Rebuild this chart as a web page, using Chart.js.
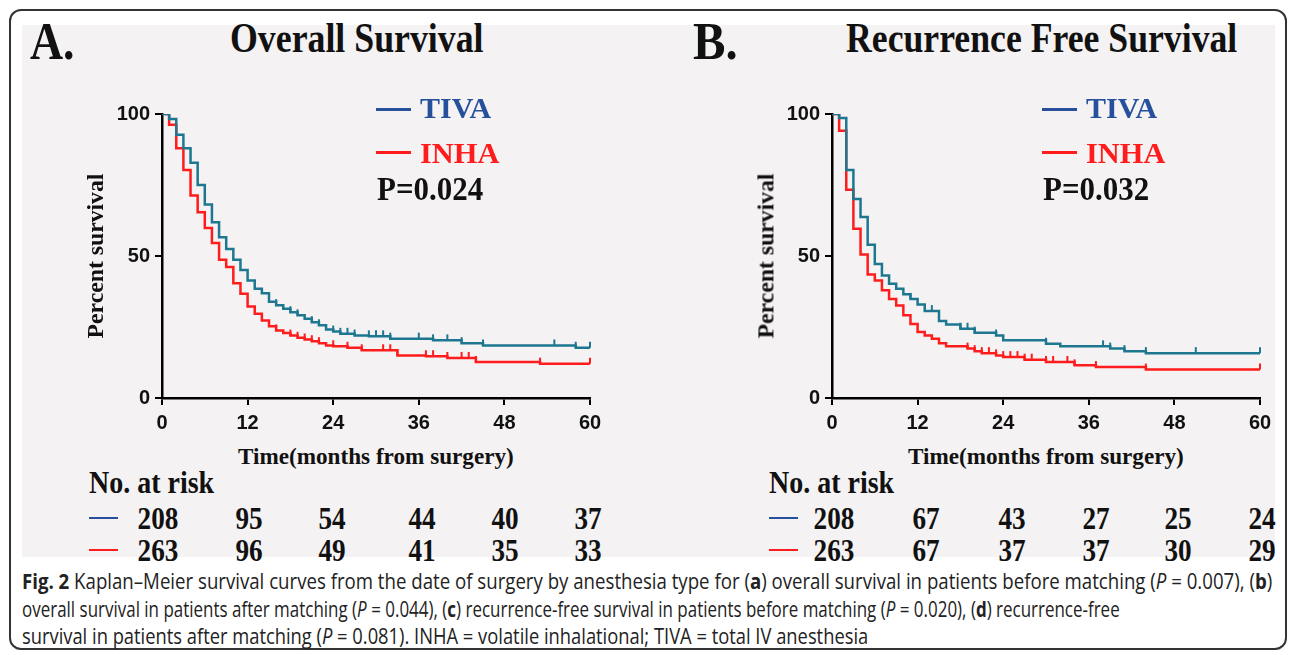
<!DOCTYPE html>
<html>
<head>
<meta charset="utf-8">
<script src="https://cdn.jsdelivr.net/npm/chart.js@4.4.1/dist/chart.umd.min.js"></script>
<style>
  html, body { margin: 0; padding: 0; background: #fff; }
  #fig { position: relative; width: 1292px; height: 655px; overflow: hidden; }
  #frame { position: absolute; left: 9px; top: 9px; width: 1274px; height: 637px;
           border: 2px solid #333; border-radius: 12px; }
  #panel { position: absolute; left: 22px; top: 25px; width: 1253px; height: 532px; background: #f4f2f3; }
  canvas { position: absolute; }
  .txt { position: absolute; line-height: 1; white-space: nowrap; }
  .seg { position: absolute; }
</style>
</head>
<body>
<div id="fig">
  <div id="frame"></div>
  <div id="panel"></div>
  <canvas id="osChart" width="560" height="350" style="left:60px;top:90px"></canvas>
  <canvas id="rfsChart" width="560" height="350" style="left:730px;top:90px"></canvas>
</div>
<script>
// ---- data (months, percent survival after the drop) ----
const osTivaT = [1, 2, 3, 4, 5, 6, 7, 8, 9, 10, 11, 12, 13, 14, 15, 16, 17, 18, 19, 20, 21, 22, 23, 24, 25, 27, 29, 32, 38, 42, 45, 58];
const osTivaS = [98.2, 92.7, 87.9, 82.8, 75.0, 68.1, 61.9, 56.6, 52.5, 48.7, 45.1, 41.4, 38.5, 36.9, 33.9, 32.7, 31.4, 30.2, 29.1, 27.9, 26.7, 25.6, 24.1, 23.4, 22.6, 22.0, 21.7, 20.9, 20.3, 19.3, 18.5, 17.7];
const osInhaT = [1, 2, 3, 4, 5, 6, 7, 8, 9, 10, 11, 12, 13, 14, 15, 16, 17, 18, 19, 20, 21, 22, 23, 24, 26, 28, 33, 37, 40, 44, 53];
const osInhaS = [96.2, 87.9, 80.3, 71.3, 65.4, 59.9, 54.6, 48.7, 46.1, 40.4, 36.7, 32.2, 29.7, 27.3, 25.3, 23.8, 22.9, 22.0, 21.2, 20.6, 20.0, 19.3, 18.5, 18.2, 17.7, 16.8, 15.0, 14.7, 14.1, 12.7, 12.1];
const osTivaCens = [16, 18, 19, 21, 22, 24, 25, 26, 27, 29, 30, 31, 32, 36, 38, 40, 42, 45, 55, 58, 60];
const osInhaCens = [16, 18, 19, 20, 21, 22, 24, 26, 28, 31, 32, 33, 37, 38, 40, 42, 43, 44, 53, 60];

const rfsTivaT = [1, 2, 3, 4, 5, 6, 7, 8, 9, 10, 11, 12, 13, 15, 16, 18, 20, 23, 24, 30, 32, 39, 41, 44];
const rfsTivaS = [98.6, 80.3, 70.1, 63.7, 54.0, 47.2, 43.1, 40.2, 38.5, 36.5, 34.9, 32.9, 30.6, 27.1, 25.9, 24.4, 23.0, 22.0, 20.3, 19.1, 18.2, 17.4, 16.5, 15.8];
const rfsInhaT = [1, 2, 3, 4, 5, 6, 7, 8, 9, 10, 11, 12, 13, 14, 15, 16, 19, 20, 21, 23, 24, 27, 30, 34, 37, 44];
const rfsInhaS = [94.1, 73.3, 59.6, 50.5, 43.5, 41.4, 37.9, 34.9, 32.6, 29.1, 26.1, 23.2, 22.0, 20.9, 19.3, 18.2, 17.4, 16.5, 15.8, 15.0, 14.4, 13.5, 12.7, 11.5, 10.9, 10.0];
const rfsTivaCens = [11, 14, 18, 19, 20, 23, 30, 38, 39, 41, 44, 51, 60];
const rfsInhaCens = [19, 20, 21, 22, 23, 24, 25, 26, 27, 28, 30, 31, 33, 34, 37, 44, 60];

// number at risk
const osRiskTiva = [208, 95, 54, 44, 40, 37];
const osRiskInha = [263, 96, 49, 41, 35, 33];
const rfsRiskTiva = [208, 67, 43, 27, 25, 24];
const rfsRiskInha = [263, 67, 37, 37, 30, 29];

const xTicks = [0, 12, 24, 36, 48, 60];
const yTicks = [0, 50, 100];

const TIVA_CURVE = '#1d7790';
const TIVA_BLUE = '#26509c';
const INHA_RED = '#ff1c1c';
const SERIF = '"Liberation Serif", "Times New Roman", serif';
const SANS = '"Liberation Sans", Arial, sans-serif';

function kmPoints(t, s) {
  const pts = [{ x: 0, y: 100 }];
  for (let i = 0; i < t.length; i++) pts.push({ x: t[i], y: s[i] });
  pts.push({ x: 60, y: s[s.length - 1] });
  return pts;
}
function survAt(t, s, time) {
  let v = 100;
  for (let i = 0; i < t.length; i++) if (t[i] <= time) v = s[i];
  return v;
}

// small upward censor ticks, placed through the chart's own scales
const censorPlugin = {
  id: 'censor',
  afterDatasetsDraw(chart, args, opts) {
    const ctx = chart.ctx, xs = chart.scales.x, ys = chart.scales.y;
    ctx.save();
    ctx.lineWidth = 2;
    opts.sets.forEach(set => {
      ctx.strokeStyle = set.color;
      set.times.forEach(tm => {
        const px = xs.getPixelForValue(tm);
        const py = ys.getPixelForValue(survAt(set.t, set.s, tm));
        ctx.beginPath();
        ctx.moveTo(px, py);
        ctx.lineTo(px, py - 6);
        ctx.stroke();
      });
    });
    ctx.restore();
  }
};

function makeChart(id, tivaT, tivaS, inhaT, inhaS, tivaC, inhaC) {
  const tickFont = { family: SANS, weight: 'bold', size: 20 };
  return new Chart(document.getElementById(id).getContext('2d'), {
    type: 'line',
    data: {
      datasets: [
        { label: 'TIVA', data: kmPoints(tivaT, tivaS), borderColor: TIVA_CURVE, borderWidth: 2.5, stepped: 'before', pointRadius: 0, fill: false },
        { label: 'INHA', data: kmPoints(inhaT, inhaS), borderColor: INHA_RED, borderWidth: 2.5, stepped: 'before', pointRadius: 0, fill: false }
      ]
    },
    options: {
      responsive: false,
      devicePixelRatio: 1,
      animation: false,
      layout: { padding: { top: 24, right: 30, left: 0, bottom: 0 } },
      plugins: {
        legend: { display: false },
        tooltip: { enabled: false },
        censor: { sets: [
          { t: tivaT, s: tivaS, times: tivaC, color: TIVA_CURVE },
          { t: inhaT, s: inhaS, times: inhaC, color: INHA_RED }
        ] }
      },
      scales: {
        x: {
          type: 'linear', min: 0, max: 60,
          afterBuildTicks: ax => { ax.ticks = xTicks.map(v => ({ value: v })); },
          afterFit: ax => { ax.height = 42; },
          grid: { display: true, drawOnChartArea: false, drawTicks: true, tickLength: 7, color: '#000', lineWidth: 2 },
          border: { display: true, color: '#000', width: 2.5 },
          ticks: { color: '#111', font: tickFont, padding: 6, maxRotation: 0 }
        },
        y: {
          type: 'linear', min: 0, max: 100,
          afterBuildTicks: ax => { ax.ticks = yTicks.map(v => ({ value: v })); },
          afterFit: ax => { ax.width = 102; },
          grid: { display: true, drawOnChartArea: false, drawTicks: true, tickLength: 7, color: '#000', lineWidth: 2 },
          border: { display: true, color: '#000', width: 2.5 },
          ticks: { color: '#111', font: tickFont, padding: 5 }
        }
      }
    },
    plugins: [censorPlugin]
  });
}

makeChart('osChart', osTivaT, osTivaS, osInhaT, osInhaS, osTivaCens, osInhaCens);
makeChart('rfsChart', rfsTivaT, rfsTivaS, rfsInhaT, rfsInhaS, rfsTivaCens, rfsInhaCens);

// ---- text around the plots ----
const fig = document.getElementById('fig');
function put(html, o) {
  const d = document.createElement('div');
  d.className = 'txt';
  d.innerHTML = html;
  d.style.fontFamily = o.font || SERIF;
  d.style.fontSize = o.fs + 'px';
  d.style.fontWeight = o.bold === false ? 'normal' : 'bold';
  d.style.color = o.color || '#111';
  fig.appendChild(d);
  const natW = d.offsetWidth;
  const k = o.w ? o.w / natW : (o.k || 1);
  const center = o.anchor === 'center';
  d.style.left = (center ? o.x - natW / 2 : o.x) + 'px';
  d.style.top = (o.cy - o.fs / 2) + 'px';
  d.style.transformOrigin = center ? '50% 50%' : '0 50%';
  d.style.transform = (o.rot ? 'rotate(' + o.rot + 'deg) ' : '') + 'scaleX(' + k + ')';
  return d;
}
function seg(x1, x2, y, color, h) {
  const d = document.createElement('div');
  d.className = 'seg';
  d.style.left = x1 + 'px';
  d.style.width = (x2 - x1) + 'px';
  d.style.top = (y - h / 2) + 'px';
  d.style.height = h + 'px';
  d.style.background = color;
  fig.appendChild(d);
}

function panelText(p) {
  const dx = p.dx, rdx = p.riskDx;
  put(p.letter, { x: 30 + p.letterDx, cy: 41, fs: 53, w: 45 });
  put(p.title, { x: p.titleX, cy: 38, fs: 42, w: p.titleW });
  seg(376 + dx, 411 + dx, 109, TIVA_BLUE, 3);
  put('TIVA', { x: 420 + dx, cy: 108, fs: 30, w: 71, color: TIVA_BLUE });
  seg(376 + dx, 411 + dx, 152, INHA_RED, 3);
  put('INHA', { x: 420 + dx, cy: 153, fs: 30, w: 79, color: INHA_RED });
  put(p.pval, { x: 377 + dx, cy: 189, fs: 33, w: 106 });
  put('Percent survival', { x: 95 + p.axisDx, cy: 256, fs: 24, w: 165, anchor: 'center', rot: -90 });
  put('Time(months from surgery)', { x: 376 + p.axisDx, cy: 456, fs: 24, w: 276, anchor: 'center' });
  put('No. at risk', { x: 89 + rdx, cy: 482, fs: 32, w: 125 });
  seg(89 + rdx, 118 + rdx, 518, TIVA_BLUE, 2);
  seg(89 + rdx, 118 + rdx, 550, INHA_RED, 2);
  p.riskX.forEach((x, i) => {
    put(String(p.risk1[i]), { x: x, cy: 518, fs: 32, k: 0.85, anchor: 'center' });
    put(String(p.risk2[i]), { x: x, cy: 550, fs: 32, k: 0.85, anchor: 'center' });
  });
}

panelText({ dx: 0, letterDx: 0, axisDx: 0, riskDx: 0, letter: 'A.', title: 'Overall Survival', titleX: 230, titleW: 254,
  pval: 'P=0.024', risk1: osRiskTiva, risk2: osRiskInha, riskX: [158, 249, 332, 422, 505, 588] });
panelText({ dx: 666, letterDx: 663, axisDx: 670, riskDx: 680, letter: 'B.', title: 'Recurrence Free Survival', titleX: 846, titleW: 391,
  pval: 'P=0.032', risk1: rfsRiskTiva, risk2: rfsRiskInha, riskX: [834, 926, 1012, 1096, 1178, 1262] });

// caption
const CAP = '"Open Sans", "Noto Sans", sans-serif';
const capOpts = { font: CAP, fs: 21, bold: false, color: '#222' };
put('<b>Fig. 2</b> Kaplan–Meier survival curves from the date of surgery by anesthesia type for (<b>a</b>) overall survival in patients before matching (<i>P</i> = 0.007), (<b>b</b>)',
    Object.assign({ x: 22, cy: 581, w: 1250 }, capOpts));
put('overall survival in patients after matching (<i>P</i> = 0.044), (<b>c</b>) recurrence-free survival in patients before matching (<i>P</i> = 0.020), (<b>d</b>) recurrence-free',
    Object.assign({ x: 22, cy: 609, w: 1098 }, capOpts));
put('survival in patients after matching (<i>P</i> = 0.081). INHA = volatile inhalational; TIVA = total IV anesthesia',
    Object.assign({ x: 22, cy: 636, w: 846 }, capOpts));
</script>
</body>
</html>
